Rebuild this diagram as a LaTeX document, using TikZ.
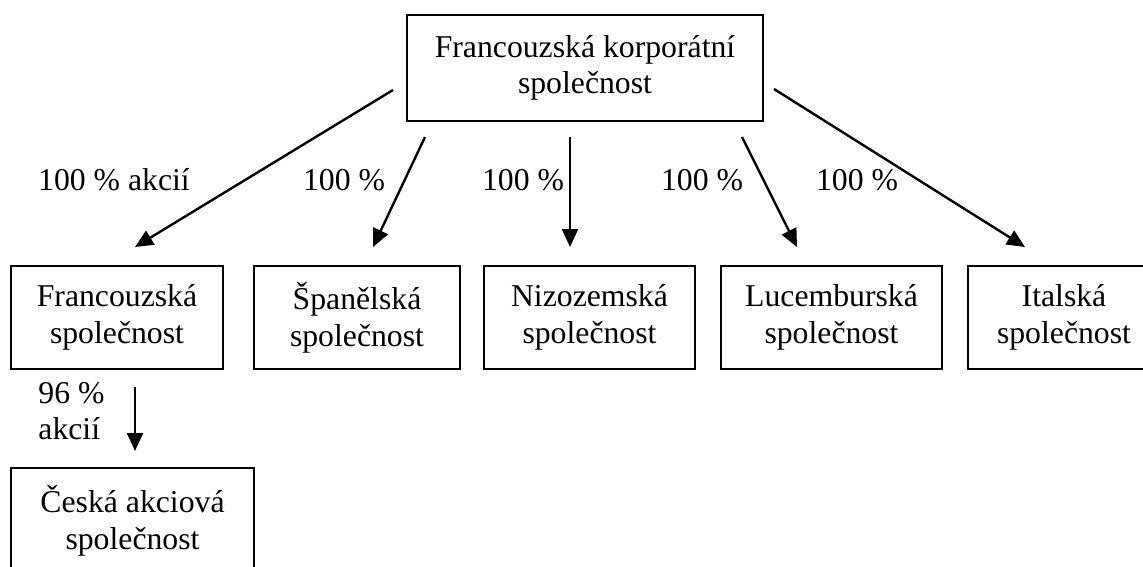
\documentclass[tikz,border=0pt]{standalone}
\usepackage{fontspec}
\setmainfont{Liberation Serif}
\usetikzlibrary{arrows.meta}

\tikzset{every picture/.style={line width=0.75pt}}

\begin{document}
\begin{tikzpicture}[x=0.75pt,y=0.75pt,yscale=-1,xscale=1,
  firma/.style={draw, line width=1.4pt, align=center, font=\fontsize{23.8}{27.4}\selectfont},
  popis/.style={font=\fontsize{23.8}{27.4}\selectfont},
  sipka/.style={line width=1.8pt, -{Triangle[length=13.5pt,width=12pt]}}]
\clip (0,0) rectangle (1143,567);

% materska spolecnost
\node [firma, minimum width=267pt, minimum height=79.5pt] (fkorp) at (585,68) {Francouzská korporátní\\společnost};

% dcerine spolecnosti
\node [firma, minimum width=159pt, minimum height=77.25pt] (fran) at (117,317.5) {Francouzská\\společnost};
\node [firma, minimum width=154.5pt, minimum height=77.25pt] (span) at (357,317.5) {Španělská\\společnost};
\node [firma, minimum width=158.25pt, minimum height=77.25pt] (nizo) at (589.5,317.5) {Nizozemská\\společnost};
\node [firma, minimum width=165.75pt, minimum height=77.25pt] (luce) at (831.5,317.5) {Lucemburská\\společnost};
\node [firma, minimum width=144pt, minimum height=77.25pt] (ital) at (1064,317.5) {Italská\\společnost};
\node [firma, minimum width=182.25pt, minimum height=78.75pt] (cesk) at (132.5,520.5) {Česká akciová\\společnost};

% podily
\node [popis] (p1) at (114,180) {100 \% akcií};
\node [popis] (p2) at (344,180) {100 \%};
\node [popis] (p3) at (523,180) {100 \%};
\node [popis] (p4) at (702,180) {100 \%};
\node [popis] (p5) at (857,180) {100 \%};
\node [popis, align=left, anchor=west] (p6) at (33.5,411) {96 \%\\akcií};

% konce sipek
\coordinate (s1) at (393,90);   \coordinate (t1) at (135,247);
\coordinate (s2) at (425,137);  \coordinate (t2) at (373,247);
\coordinate (s3) at (570,137);  \coordinate (t3) at (570,247);
\coordinate (s4) at (742,137);  \coordinate (t4) at (797,247);
\coordinate (s5) at (774,89);   \coordinate (t5) at (1025,247);
\coordinate (s6) at (135,387);  \coordinate (t6) at (135,451);

\draw [sipka] (s1) -- (t1);
\draw [sipka] (s2) -- (t2);
\draw [sipka] (s3) -- (t3);
\draw [sipka] (s4) -- (t4);
\draw [sipka] (s5) -- (t5);
\draw [sipka] (s6) -- (t6);

\end{tikzpicture}
\end{document}
